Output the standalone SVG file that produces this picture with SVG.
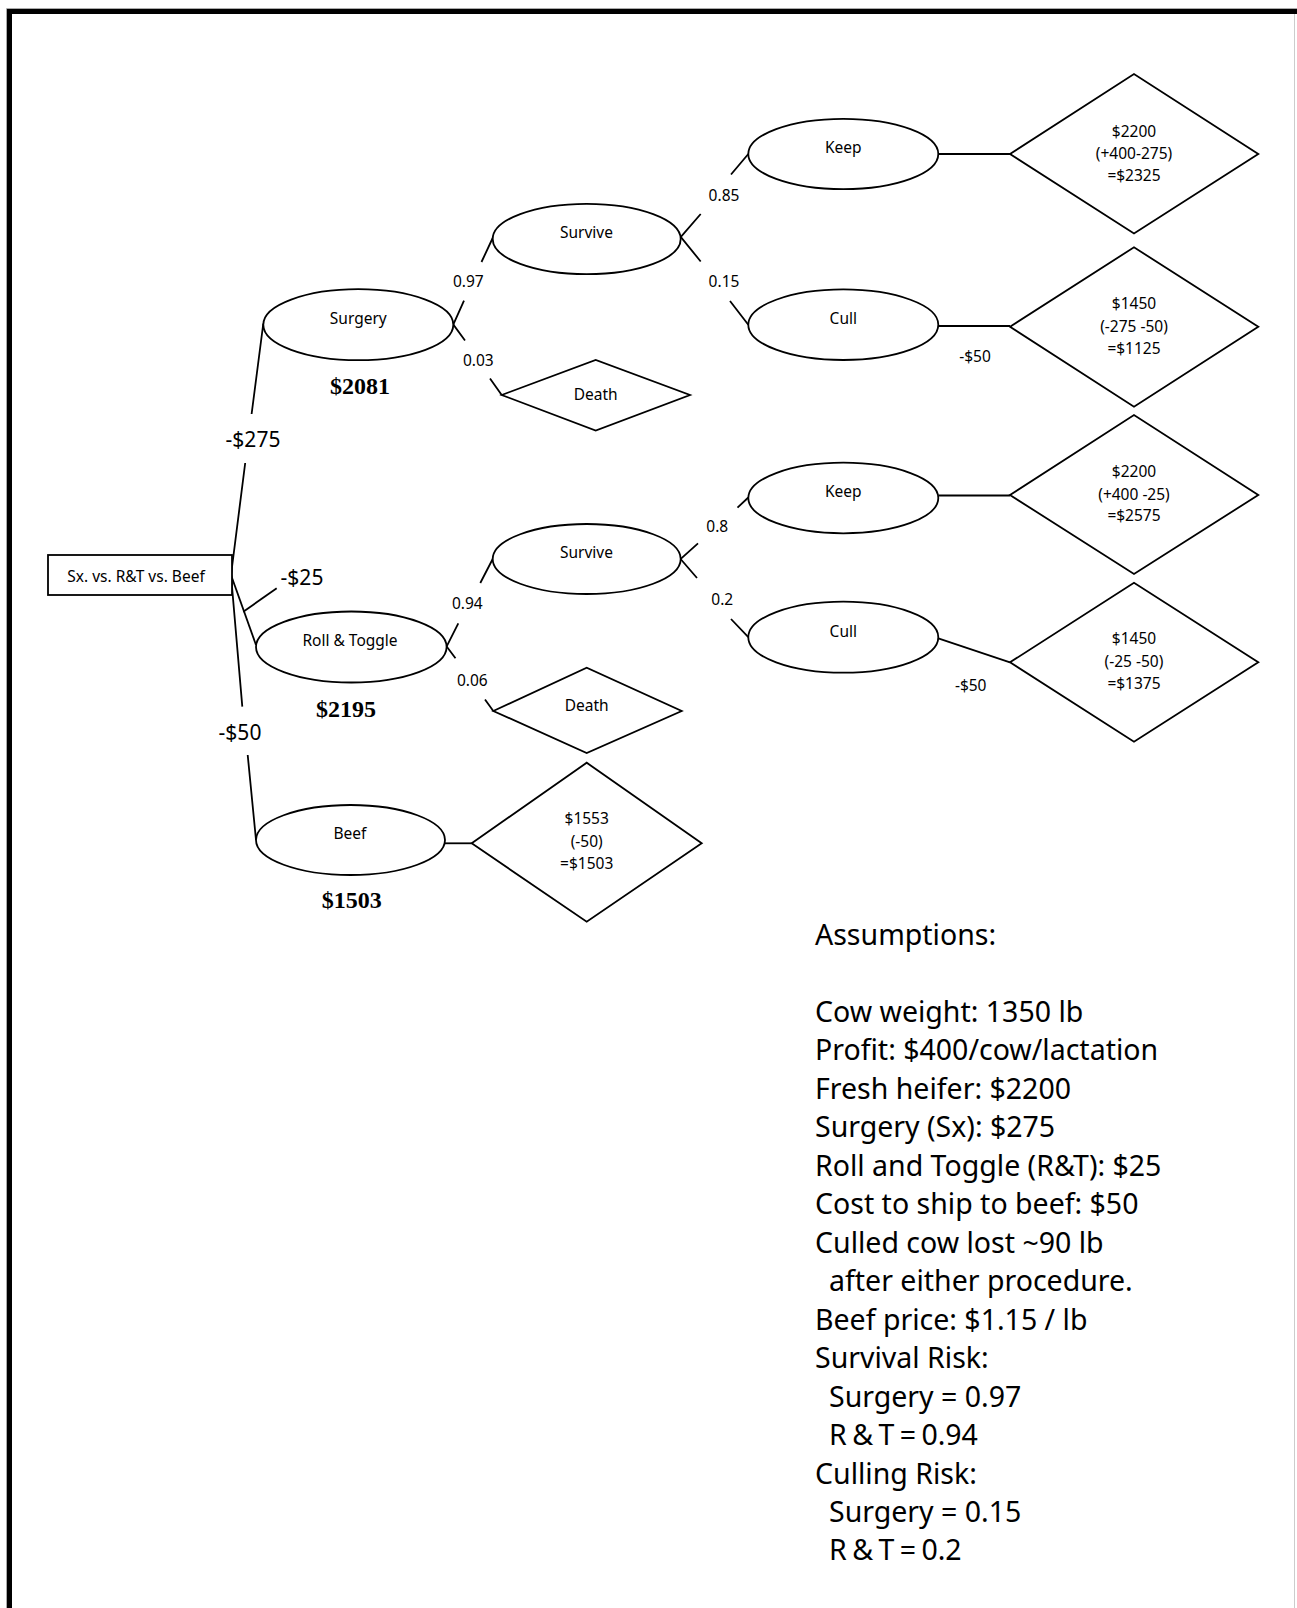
<svg xmlns="http://www.w3.org/2000/svg" width="1297" height="1608" viewBox="0 0 1297 1608">
<style>
.shape{fill:#fff;stroke:#000;stroke-width:1.8}
.ln{fill:none;stroke:#000;stroke-width:1.8}
.t{font-family:"Noto Sans","Open Sans",sans-serif;font-size:15.5px;fill:#000;text-anchor:middle}
.m{font-family:"Noto Sans","Open Sans",sans-serif;font-size:21px;fill:#000;text-anchor:middle}
.b{font-family:"Liberation Serif","Times New Roman",serif;font-size:24px;font-weight:bold;fill:#000;text-anchor:middle}
.a{font-family:"Noto Sans","Open Sans",sans-serif;font-size:28.5px;fill:#000}
.rt{word-spacing:-2px}
</style>
<rect width="1297" height="1608" fill="#fff"/>
<g id="frame">
<path d="M6.5,1608 V8.5 H1297" fill="none" stroke="#aaa" stroke-width="1"/>
<path d="M1294.5,14 V1608" fill="none" stroke="#ccc" stroke-width="1"/>
<path d="M9.5,1608 V11.5 H1297" fill="none" stroke="#000" stroke-width="5"/>
</g>
<g id="connectors">
<path class="ln" d="M231,575 L245.2,463 M251.6,414 L263.3,323.5"/>
<path class="ln" d="M231,575 L256,645"/>
<path class="ln" d="M243.3,611.7 L276.7,588.3"/>
<path class="ln" d="M231,575 L242.3,706.7 M247.7,755 L256,840"/>
<path class="ln" d="M451.6,328.3 L464,300.7 M481.5,262 L492.7,238"/>
<path class="ln" d="M451,321.4 L465,340.5 M490,378.5 L501.7,395"/>
<path class="ln" d="M678.5,239.7 L700.7,214 M731,174.5 L748.3,154"/>
<path class="ln" d="M678.3,233.9 L700.7,261.5 M730,301 L748.3,324.7"/>
<path class="ln" d="M938.3,154 L1010,154"/>
<path class="ln" d="M938.3,326 L1010,326"/>
<path class="ln" d="M444.8,650.2 L458.3,623.3 M480.3,583 L492.7,559"/>
<path class="ln" d="M444.4,643.5 L455.5,658.3 M485,699.5 L493.3,711"/>
<path class="ln" d="M677.7,561.7 L698,543.4 M737.5,507.7 L748.3,497.5"/>
<path class="ln" d="M678,556 L697,578 M731,619 L748.3,637.2"/>
<path class="ln" d="M938.3,495.5 L1010,495.5"/>
<path class="ln" d="M938.3,638.3 L1010,662.3"/>
<path class="ln" d="M445,843.3 L471.7,843.3"/>
<text class="m" x="253" y="446.5">-$275</text>
<text class="m" x="302" y="585">-$25</text>
<text class="m" x="240" y="740">-$50</text>
<text class="t" x="468.3" y="287">0.97</text>
<text class="t" x="478.3" y="366">0.03</text>
<text class="t" x="724" y="200.5">0.85</text>
<text class="t" x="724" y="287">0.15</text>
<text class="t" x="467.3" y="608.7">0.94</text>
<text class="t" x="472.3" y="685.5">0.06</text>
<text class="t" x="717.3" y="532">0.8</text>
<text class="t" x="722.3" y="604.7">0.2</text>
<text class="t" x="975" y="361.5">-$50</text>
<text class="t" x="970.7" y="690.5">-$50</text>
</g>
<g id="start">
<rect class="shape" x="48" y="555" width="184" height="40" stroke-width="1.5"/>
<text class="t" x="136" y="581.7">Sx. vs. R&amp;T vs. Beef</text>
</g>
<g id="surgery">
<ellipse class="shape" cx="358.3" cy="324.7" rx="95" ry="35.5"/>
<text class="t" x="358.3" y="323.7">Surgery</text>
<text class="b" x="360" y="394">$2081</text>
</g>
<g id="rolltoggle">
<ellipse class="shape" cx="351.3" cy="647" rx="95.3" ry="35.5"/>
<text class="t" x="350" y="646">Roll &amp; Toggle</text>
<text class="b" x="346" y="716.7">$2195</text>
</g>
<g id="beef">
<ellipse class="shape" cx="350.5" cy="840" rx="94.5" ry="35"/>
<text class="t" x="350" y="839">Beef</text>
<text class="b" x="351.7" y="908.3">$1503</text>
</g>
<g id="survive1">
<ellipse class="shape" cx="586.7" cy="239" rx="94" ry="35.2"/>
<text class="t" x="586.5" y="238.3">Survive</text>
</g>
<g id="death1">
<polygon class="shape" points="501.7,395 595.7,360 690,395 595.7,430.5"/>
<text class="t" x="595.7" y="399.5">Death</text>
</g>
<g id="keep1">
<ellipse class="shape" cx="843.3" cy="154" rx="95" ry="35.2"/>
<text class="t" x="843.3" y="153">Keep</text>
</g>
<g id="cull1">
<ellipse class="shape" cx="843.3" cy="324.7" rx="95" ry="35.3"/>
<text class="t" x="843.3" y="323.7">Cull</text>
</g>
<g id="outcome1">
<polygon class="shape" points="1010,154 1134,74 1258.3,154 1134,233.5"/>
<text class="t" x="1134" y="136.5">$2200</text>
<text class="t" x="1134" y="158.5">(+400-275)</text>
<text class="t" x="1134" y="180.5">=$2325</text>
</g>
<g id="outcome2">
<polygon class="shape" points="1010,326.7 1134,247.3 1258.3,326.7 1134,406.7"/>
<text class="t" x="1134" y="309">$1450</text>
<text class="t" x="1134" y="331.5">(-275 -50)</text>
<text class="t" x="1134" y="354">=$1125</text>
</g>
<g id="survive2">
<ellipse class="shape" cx="586.7" cy="559" rx="94" ry="35"/>
<text class="t" x="586.5" y="558.3">Survive</text>
</g>
<g id="death2">
<polygon class="shape" points="493.3,711 586.7,667.7 681.7,711 586.7,753"/>
<text class="t" x="586.7" y="711">Death</text>
</g>
<g id="keep2">
<ellipse class="shape" cx="843.3" cy="498" rx="95" ry="35.3"/>
<text class="t" x="843.3" y="497.3">Keep</text>
</g>
<g id="cull2">
<ellipse class="shape" cx="843.3" cy="637.2" rx="95" ry="35.5"/>
<text class="t" x="843.3" y="636.5">Cull</text>
</g>
<g id="outcome3">
<polygon class="shape" points="1010,495 1134,415 1258.3,495 1134,574"/>
<text class="t" x="1134" y="477">$2200</text>
<text class="t" x="1134" y="499.5">(+400 -25)</text>
<text class="t" x="1134" y="521">=$2575</text>
</g>
<g id="outcome4">
<polygon class="shape" points="1010,662.3 1134,582.7 1258.3,662.3 1134,741.7"/>
<text class="t" x="1134" y="644">$1450</text>
<text class="t" x="1134" y="667">(-25 -50)</text>
<text class="t" x="1134" y="689">=$1375</text>
</g>
<g id="beefoutcome">
<polygon class="shape" points="471.7,843.3 586.7,762.7 701.7,843.3 586.7,921.7"/>
<text class="t" x="586.7" y="824">$1553</text>
<text class="t" x="586.7" y="847">(-50)</text>
<text class="t" x="586.7" y="869">=$1503</text>
</g>
<g id="assumptions">
<text class="a" x="815" y="945">Assumptions:</text>
<text class="a" x="815" y="1021.7">Cow weight: 1350 lb</text>
<text class="a" x="815" y="1060">Profit: $400/cow/lactation</text>
<text class="a" x="815" y="1098.5">Fresh heifer: $2200</text>
<text class="a" x="815" y="1137">Surgery (Sx): $275</text>
<text class="a" x="815" y="1175.5">Roll and Toggle (R&amp;T): $25</text>
<text class="a" x="815" y="1214">Cost to ship to beef: $50</text>
<text class="a" x="815" y="1252.5">Culled cow lost ~90 lb</text>
<text class="a" x="829" y="1291">after either procedure.</text>
<text class="a" x="815" y="1329.5">Beef price: $1.15 / lb</text>
<text class="a" x="815" y="1368">Survival Risk:</text>
<text class="a" x="829" y="1406.5">Surgery = 0.97</text>
<text class="a rt" x="829" y="1445">R &amp; T = 0.94</text>
<text class="a" x="815" y="1483.5">Culling Risk:</text>
<text class="a" x="829" y="1522">Surgery = 0.15</text>
<text class="a rt" x="829" y="1560">R &amp; T = 0.2</text>
</g>
</svg>
